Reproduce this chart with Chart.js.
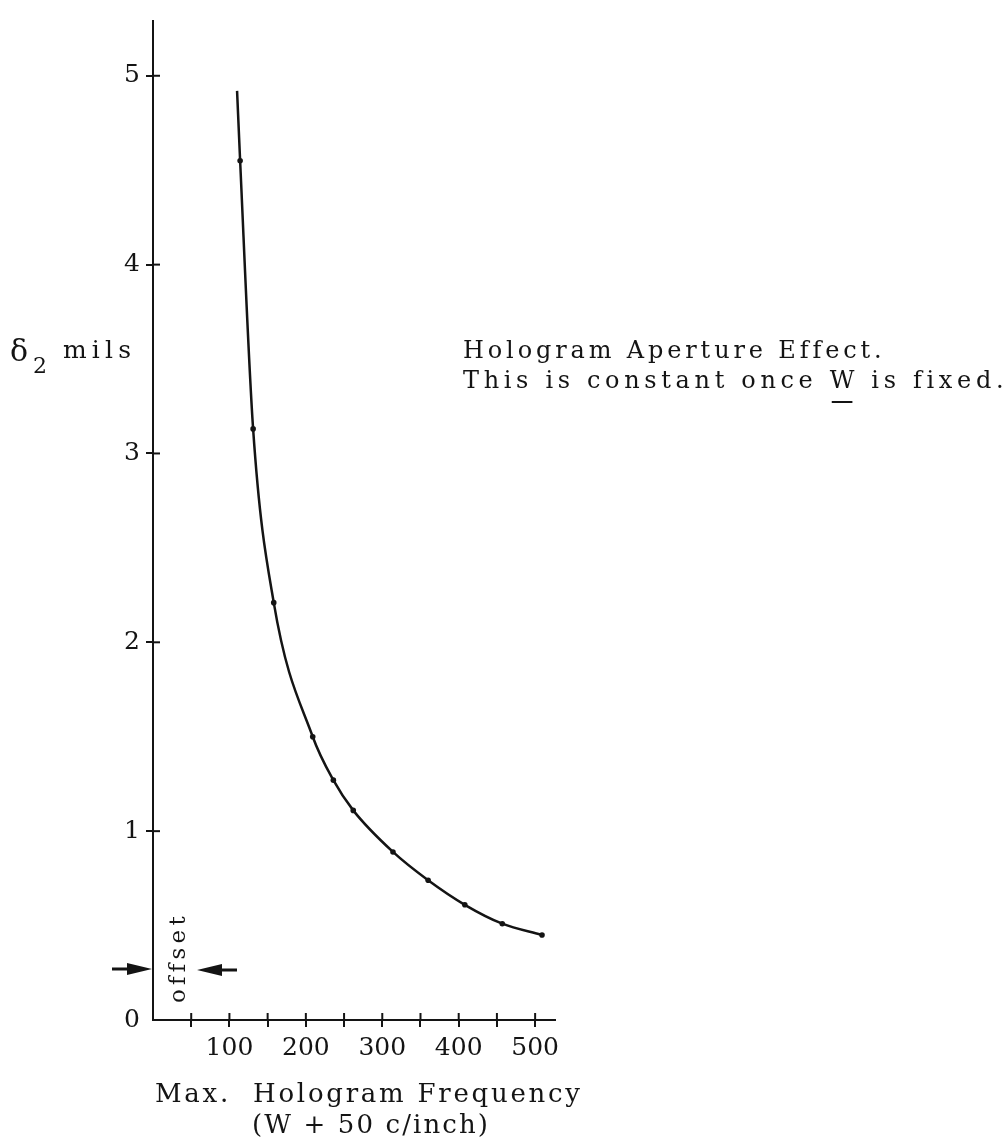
<!DOCTYPE html>
<html>
<head>
<meta charset="utf-8">
<script src="https://cdn.jsdelivr.net/npm/chart.js@4.4.0/dist/chart.umd.min.js"></script>
<style>
    html, body { margin: 0; padding: 0; background: #fff; }
    #wrap { width: 1008px; height: 1145px; }
</style>
</head>
<body>
<div id="wrap"><canvas id="myChart" width="1008" height="1145"></canvas></div>
<script>
// values
const frequency = [110, 114, 131, 158, 209, 236, 262, 314, 360, 408, 457, 509];
const delta2 = [4.92, 4.55, 3.13, 2.21, 1.50, 1.27, 1.11, 0.89, 0.74, 0.61, 0.51, 0.45];
const xTickLabels = [100, 200, 300, 400, 500];
const yTickLabels = [0, 1, 2, 3, 4, 5];

const ink = '#141414';
const serif = "'DejaVu Serif', serif";

// draw text so it spans a given width (typewriter look)
function spacedText(ctx, text, x, y, width) {
    ctx.letterSpacing = '0px';
    const w = ctx.measureText(text).width;
    const sp = (width - w) / (text.length - 1);
    ctx.letterSpacing = sp + 'px';
    ctx.fillText(text, x, y);
    ctx.letterSpacing = '0px';
    return sp;
}

const extras = {
    id: 'extras',
    afterDraw(chart) {
        const ctx = chart.ctx;
        const area = chart.chartArea;
        const xs = chart.scales.x;
        const ys = chart.scales.y;
        ctx.save();
        ctx.strokeStyle = ink;
        ctx.fillStyle = ink;
        ctx.lineWidth = 2;

        // inner half of the cross ticks
        xs.ticks.forEach(t => {
            if (t.value === 0) return;
            const px = xs.getPixelForValue(t.value);
            ctx.beginPath();
            ctx.moveTo(px, area.bottom);
            ctx.lineTo(px, area.bottom - 7);
            ctx.stroke();
        });
        ys.ticks.forEach(t => {
            if (t.value === 0) return;
            const py = ys.getPixelForValue(t.value);
            ctx.beginPath();
            ctx.moveTo(area.left, py);
            ctx.lineTo(area.left + 7, py);
            ctx.stroke();
        });

        ctx.textAlign = 'left';
        ctx.textBaseline = 'alphabetic';

        // x axis title
        ctx.font = '26px ' + serif;
        spacedText(ctx, 'Max.  Hologram Frequency', 155, 1102, 425);
        spacedText(ctx, '(W + 50 c/inch)', 252, 1133, 236);

        // y axis title
        ctx.font = '30px ' + serif;
        ctx.fillText('\u03b4', 10, 361);
        ctx.font = '22px ' + serif;
        ctx.fillText('2', 33, 373);
        ctx.font = '25px ' + serif;
        spacedText(ctx, 'mils', 63, 358, 68);

        // note on the right
        ctx.font = '24px ' + serif;
        spacedText(ctx, 'Hologram Aperture Effect.', 463, 358, 418);
        const sp = spacedText(ctx, 'This is constant once W is fixed.', 463, 388, 540);
        ctx.letterSpacing = sp + 'px';
        const wx = 463 + ctx.measureText('This is constant once ').width;
        const ww = ctx.measureText('W').width - sp;
        ctx.letterSpacing = '0px';
        ctx.lineWidth = 2;
        ctx.beginPath();
        ctx.moveTo(wx + 2, 402);
        ctx.lineTo(wx + ww - 2, 402);
        ctx.stroke();

        // offset label with arrows
        ctx.save();
        ctx.translate(185, 960);
        ctx.rotate(-Math.PI / 2);
        ctx.font = '23px ' + serif;
        spacedText(ctx, 'offset', -43, 0, 86);
        ctx.restore();

        ctx.lineWidth = 3;
        ctx.beginPath();
        ctx.moveTo(112, 969);
        ctx.lineTo(132, 969);
        ctx.moveTo(218, 970);
        ctx.lineTo(237, 970);
        ctx.stroke();
        ctx.beginPath();
        ctx.moveTo(152, 969);
        ctx.lineTo(127, 963);
        ctx.lineTo(127, 975);
        ctx.closePath();
        ctx.moveTo(197, 970);
        ctx.lineTo(222, 964);
        ctx.lineTo(222, 976);
        ctx.closePath();
        ctx.fill();

        ctx.restore();
    }
};

const points = frequency.map((f, i) => ({ x: f, y: delta2[i] }));

new Chart(document.getElementById('myChart'), {
    type: 'line',
    data: {
        datasets: [{
            data: points,
            borderColor: ink,
            borderWidth: 2.5,
            cubicInterpolationMode: 'monotone',
            pointRadius: (c) => c.dataIndex === 0 ? 0 : 2.8,
            pointBackgroundColor: ink,
            pointBorderWidth: 0,
            fill: false
        }]
    },
    options: {
        responsive: false,
        animation: false,
        layout: { padding: { top: 7, right: 453, left: 0, bottom: 0 } },
        plugins: { legend: { display: false }, tooltip: { enabled: false } },
        scales: {
            x: {
                type: 'linear',
                min: 0,
                max: 526,
                border: { display: true, color: ink, width: 2 },
                grid: {
                    drawOnChartArea: false,
                    drawTicks: true,
                    tickLength: 7,
                    lineWidth: 2,
                    color: (c) => c.tick && c.tick.value === 0 ? 'rgba(0,0,0,0)' : ink
                },
                ticks: {
                    stepSize: 50,
                    includeBounds: false,
                    autoSkip: false,
                    maxRotation: 0,
                    padding: 6,
                    color: ink,
                    font: { family: serif, size: 25 },
                    callback: (v) => xTickLabels.includes(v) ? String(v) : ''
                },
                afterFit: (s) => { s.height = 125; }
            },
            y: {
                min: 0,
                max: 5.29,
                border: { display: true, color: ink, width: 2 },
                grid: {
                    drawOnChartArea: false,
                    drawTicks: true,
                    tickLength: 7,
                    lineWidth: 2,
                    color: (c) => c.tick && c.tick.value === 0 ? 'rgba(0,0,0,0)' : ink
                },
                ticks: {
                    stepSize: 1,
                    includeBounds: false,
                    padding: 6,
                    color: ink,
                    font: { family: serif, size: 25 },
                    callback: (v) => yTickLabels.includes(v) ? String(v) : ''
                },
                afterFit: (s) => { s.width = 153; }
            }
        }
    },
    plugins: [extras]
});
</script>
</body>
</html>
